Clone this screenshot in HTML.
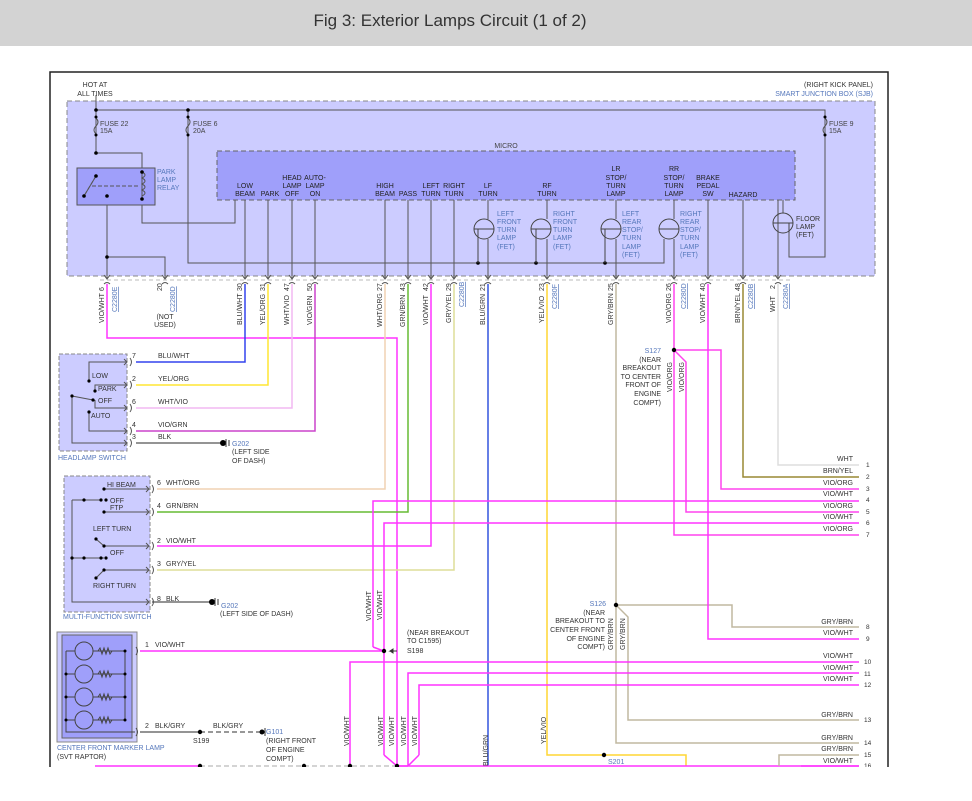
<!DOCTYPE html>
<html><head><meta charset="utf-8"><style>
body{margin:0;background:#fff;width:972px;height:796px;overflow:hidden}
svg text{font-family:"Liberation Sans",sans-serif}
</style></head><body>
<svg width="972" height="796" viewBox="0 0 972 796" xmlns="http://www.w3.org/2000/svg">
<rect x="0" y="0" width="972" height="46" fill="#d3d3d3"/>
<text x="450" y="26" font-size="17" text-anchor="middle" fill="#333">Fig 3: Exterior Lamps Circuit (1 of 2)</text>
<rect x="50" y="72" width="838" height="740" fill="#fff" stroke="#222" stroke-width="1.5"/>
<g font-size="7" fill="#333">
<text x="95" y="87" text-anchor="middle">HOT AT</text>
<text x="95" y="96" text-anchor="middle">ALL TIMES</text>
<text x="873" y="87" text-anchor="end">(RIGHT KICK PANEL)</text>
<text x="873" y="96" text-anchor="end" fill="#5577bb">SMART JUNCTION BOX (SJB)</text>
</g>
<!-- SJB -->
<rect x="67" y="101" width="808" height="175" fill="#ccccff" stroke="#888" stroke-dasharray="5,3"/>
<rect x="217" y="151" width="578" height="49" fill="#9f9ffa" stroke="#666" stroke-dasharray="5,3"/>
<g stroke="#555" stroke-width="1" fill="none">
<path d="M96 95V153H142V168M96 110H825V257H789V233"/>
<path d="M188 110V263H664V239"/>
<path d="M142 200V223H235V200"/>
<path d="M107 196V278M107 257H165V278"/>
<path d="M96 118q4 4 0 8q-4 4 0 8M188 118q4 4 0 8q-4 4 0 8M825 118q4 4 0 8q-4 4 0 8"/>
<path d="M478 263V229M536 263V229M605 263V229"/>
<path d="M488 200V219M488 239V278M547 200V219M547 239V278M616 200V219M616 239V278M674 200V219M674 239V278M783 200V213"/>
<path d="M245 200V278M268 200V278M292 200V278M315 200V278M385 200V278M408 200V278M431 200V278M454 200V278M708 200V278M743 200V278M778 200V278"/>
</g>
<rect x="77" y="168" width="78" height="37" fill="#9f9ffa" stroke="#555"/>
<g stroke="#555" fill="none"><path d="M96 176L84 196M92 186H140" stroke-dasharray="4,2"/><path d="M96 176L84 196"/><path d="M142 172q6 3 0 6q6 3 0 6q6 3 0 6q6 3 0 6"/><path d="M142 172V198"/></g>
<g fill="#000"><circle cx="96" cy="110" r="1.8"/><circle cx="188" cy="110" r="1.8"/><circle cx="96" cy="153" r="1.8"/><circle cx="96" cy="176" r="1.8"/><circle cx="84" cy="196" r="1.8"/><circle cx="107" cy="196" r="1.8"/><circle cx="142" cy="172" r="1.8"/><circle cx="142" cy="199" r="1.8"/><circle cx="107" cy="257" r="1.8"/><circle cx="478" cy="263" r="1.8"/><circle cx="536" cy="263" r="1.8"/><circle cx="605" cy="263" r="1.8"/><circle cx="96" cy="117" r="1.5"/><circle cx="96" cy="135" r="1.5"/><circle cx="188" cy="117" r="1.5"/><circle cx="188" cy="135" r="1.5"/><circle cx="825" cy="117" r="1.5"/><circle cx="825" cy="135" r="1.5"/></g>
<g fill="none" stroke="#444"><circle cx="484" cy="229" r="10"/><circle cx="541" cy="229" r="10"/><circle cx="611" cy="229" r="10"/><circle cx="669" cy="229" r="10"/><circle cx="783" cy="223" r="10"/>
<path d="M474 229H494M478 229V263M541 229H551M531 229H551M536 229V263M601 229H621M605 229V263M659 229H679M773 223H793M789 223V233"/></g>
<g font-size="7" fill="#444">
<text x="193" y="126">FUSE 6</text><text x="193" y="133">20A</text>
<text x="100" y="126">FUSE 22</text><text x="100" y="133">15A</text>
<text x="829" y="126">FUSE 9</text><text x="829" y="133">15A</text>
<text x="506" y="148" text-anchor="middle">MICRO</text>
</g>
<g font-size="7" fill="#5577bb"><text x="157" y="174">PARK</text><text x="157" y="182">LAMP</text><text x="157" y="190">RELAY</text>
<text x="497" y="216">LEFT</text><text x="497" y="224">FRONT</text><text x="497" y="232">TURN</text><text x="497" y="240">LAMP</text><text x="497" y="249">(FET)</text>
<text x="553" y="216">RIGHT</text><text x="553" y="224">FRONT</text><text x="553" y="232">TURN</text><text x="553" y="240">LAMP</text><text x="553" y="249">(FET)</text>
<text x="622" y="216">LEFT</text><text x="622" y="224">REAR</text><text x="622" y="232">STOP/</text><text x="622" y="240">TURN</text><text x="622" y="249">LAMP</text><text x="622" y="257">(FET)</text>
<text x="680" y="216">RIGHT</text><text x="680" y="224">REAR</text><text x="680" y="232">STOP/</text><text x="680" y="240">TURN</text><text x="680" y="249">LAMP</text><text x="680" y="257">(FET)</text>
</g>
<g font-size="7" fill="#333"><text x="796" y="221">FLOOR</text><text x="796" y="229">LAMP</text><text x="796" y="237">(FET)</text></g>
<g font-size="7" fill="#222" text-anchor="middle">
<text x="245" y="188">LOW</text><text x="245" y="196">BEAM</text><text x="270" y="196">PARK</text>
<text x="292" y="180">HEAD</text><text x="292" y="188">LAMP</text><text x="292" y="196">OFF</text>
<text x="315" y="180">AUTO-</text><text x="315" y="188">LAMP</text><text x="315" y="196">ON</text>
<text x="385" y="188">HIGH</text><text x="385" y="196">BEAM</text><text x="408" y="196">PASS</text>
<text x="431" y="188">LEFT</text><text x="431" y="196">TURN</text><text x="454" y="188">RIGHT</text><text x="454" y="196">TURN</text>
<text x="488" y="188">LF</text><text x="488" y="196">TURN</text><text x="547" y="188">RF</text><text x="547" y="196">TURN</text>
<text x="616" y="171">LR</text><text x="616" y="180">STOP/</text><text x="616" y="188">TURN</text><text x="616" y="196">LAMP</text>
<text x="674" y="171">RR</text><text x="674" y="180">STOP/</text><text x="674" y="188">TURN</text><text x="674" y="196">LAMP</text>
<text x="708" y="180">BRAKE</text><text x="708" y="188">PEDAL</text><text x="708" y="196">SW</text>
<text x="743" y="197">HAZARD</text>
</g>
<!-- connector line -->
<path d="M100 280H790" stroke="#bbb" stroke-dasharray="4,3"/>
<g stroke="#555" fill="none">
<path d="M104 275l3 4l3-4M162 275l3 4l3-4M242 275l3 4l3-4M265 275l3 4l3-4M289 275l3 4l3-4M312 275l3 4l3-4M382 275l3 4l3-4M405 275l3 4l3-4M428 275l3 4l3-4M451 275l3 4l3-4M485 275l3 4l3-4M544 275l3 4l3-4M613 275l3 4l3-4M671 275l3 4l3-4M705 275l3 4l3-4M740 275l3 4l3-4M775 275l3 4l3-4"/>
<path d="M104 284q3-3 6 0M162 284q3-3 6 0M242 284q3-3 6 0M265 284q3-3 6 0M289 284q3-3 6 0M312 284q3-3 6 0M382 284q3-3 6 0M405 284q3-3 6 0M428 284q3-3 6 0M451 284q3-3 6 0M485 284q3-3 6 0M544 284q3-3 6 0M613 284q3-3 6 0M671 284q3-3 6 0M705 284q3-3 6 0M740 284q3-3 6 0M775 284q3-3 6 0"/>
</g>
<!-- wires -->
<g fill="none" stroke-width="1.5">
<path d="M107 284V338H397V766" stroke="#ff33ff"/>
<path d="M245 284V362H136" stroke="#3344ee"/>
<path d="M268 284V385H136" stroke="#ffe633"/>
<path d="M292 284V408H136" stroke="#f2b8f2"/>
<path d="M315 284V431H136" stroke="#cc44cc"/>
<path d="M385 284V489H157" stroke="#f0d2b4"/>
<path d="M408 284V512H157" stroke="#66bb33"/>
<path d="M431 284V546H157" stroke="#ff33ff"/>
<path d="M454 284V570H157" stroke="#dede99"/>
<path d="M488 284V766" stroke="#3355dd"/>
<path d="M547 284V755H686V766" stroke="#ffd633"/>
<path d="M616 284V743H859M616 605H732V627H859M616 605L628 617V720H859" stroke="#c0b8a0"/>
<path d="M674 284V535H859M674 350H721V489H859M674 350L686 362V512H859" stroke="#ff44ee"/>
<path d="M708 284V639H859" stroke="#ff33ff"/>
<path d="M743 284V477H859" stroke="#998833"/>
<path d="M778 284V465H859" stroke="#dddddd"/>
<path d="M373 647V501H859M384 755V523H859M373 647L384 651M140 651H384M384 755L397 766M350 766V662H859M408 766V673H859M419 755V685H859M408 766L397 766M419 755L408 766" stroke="#ff33ff"/>
<path d="M95 766H200M397 766H859" stroke="#ff33ff"/>
<path d="M779 766V755H859" stroke="#c0b8a0"/>
<path d="M801 766H859" stroke="#ff33ff"/>
</g>
<path d="M200 766H397" stroke="#aaa" stroke-dasharray="5,3"/>
<path d="M136 443H222M152 602H210M140 732H200" stroke="#555" stroke-width="1.2"/>
<path d="M200 732H262" stroke="#777" stroke-width="1.5" stroke-dasharray="5,3"/>
<g fill="#000"><circle cx="674" cy="350" r="2.2"/><circle cx="616" cy="605" r="2.2"/><circle cx="384" cy="651" r="2.2"/><circle cx="200" cy="732" r="2.2"/><circle cx="604" cy="755" r="2.2"/><circle cx="397" cy="766" r="2.2"/><circle cx="200" cy="766" r="2.2"/><circle cx="304" cy="766" r="2.2"/><circle cx="350" cy="766" r="2.2"/><circle cx="223" cy="443" r="3"/><circle cx="212" cy="602" r="3"/><circle cx="262" cy="732" r="2.5"/></g>
<path d="M226 439V447M229 440V446M215 598V606M218 599V605M265 728V736" stroke="#333"/>
<path d="M397 651H390l3-2v4l-3-2" stroke="#333" fill="#333"/>
<!-- rotated pin labels -->
<g font-size="7" fill="#333">
<g transform="rotate(-90)">
<text x="-323" y="104">VIO/WHT</text><text x="-291" y="104">6</text>
<text x="-291" y="162">20</text>
<text x="-325" y="242">BLU/WHT</text><text x="-291" y="242">30</text>
<text x="-325" y="265">YEL/ORG</text><text x="-291" y="265">31</text>
<text x="-325" y="289">WHT/VIO</text><text x="-291" y="289">47</text>
<text x="-325" y="312">VIO/GRN</text><text x="-291" y="312">50</text>
<text x="-327" y="382">WHT/ORG</text><text x="-291" y="382">27</text>
<text x="-327" y="405">GRN/BRN</text><text x="-291" y="405">43</text>
<text x="-325" y="428">VIO/WHT</text><text x="-291" y="428">42</text>
<text x="-323" y="451">GRY/YEL</text><text x="-291" y="451">29</text>
<text x="-325" y="485">BLU/GRN</text><text x="-291" y="485">21</text>
<text x="-323" y="544">YEL/VIO</text><text x="-291" y="544">23</text>
<text x="-325" y="613">GRY/BRN</text><text x="-291" y="613">25</text>
<text x="-323" y="671">VIO/ORG</text><text x="-291" y="671">26</text>
<text x="-323" y="705">VIO/WHT</text><text x="-291" y="705">40</text>
<text x="-323" y="740">BRN/YEL</text><text x="-291" y="740">48</text>
<text x="-312" y="775">WHT</text><text x="-289" y="775">2</text>
<text x="-392" y="672">VIO/ORG</text><text x="-392" y="684">VIO/ORG</text>
<text x="-650" y="613">GRY/BRN</text><text x="-650" y="625">GRY/BRN</text>
<text x="-621" y="371">VIO/WHT</text><text x="-620" y="382">VIO/WHT</text>
<text x="-746" y="349">VIO/WHT</text><text x="-746" y="383">VIO/WHT</text><text x="-746" y="394">VIO/WHT</text><text x="-746" y="406">VIO/WHT</text><text x="-746" y="417">VIO/WHT</text>
<text x="-766" y="488">BLU/GRN</text><text x="-744" y="546">YEL/VIO</text>
</g>
<g transform="rotate(-90)" fill="#5577bb" text-decoration="underline">
<text x="-312" y="117">C2280E</text><text x="-312" y="175">C2280D</text><text x="-307" y="464">C2280B</text><text x="-309" y="557">C2280F</text><text x="-309" y="686">C2280D</text><text x="-309" y="753">C2280B</text><text x="-309" y="788">C2280A</text>
</g>
<text x="165" y="319" text-anchor="middle">(NOT</text><text x="165" y="327" text-anchor="middle">USED)</text>
</g>
<!-- headlamp switch -->
<rect x="59" y="354" width="68" height="97" fill="#ccccff" stroke="#888" stroke-dasharray="4,2"/>
<g stroke="#555" fill="none"><path d="M89 381V362H126M89 381V381M95 391V385H126M93 400L72 396V443H126M95 400V408H126M89 412V431H126"/>
<path d="M124 359l3 3l-3 3M124 382l3 3l-3 3M124 405l3 3l-3 3M124 428l3 3l-3 3M124 440l3 3l-3 3M130 358q3 4 0 8M130 381q3 4 0 8M130 404q3 4 0 8M130 427q3 4 0 8M130 439q3 4 0 8"/></g>
<g fill="#000"><circle cx="89" cy="381" r="1.6"/><circle cx="95" cy="391" r="1.6"/><circle cx="72" cy="396" r="1.6"/><circle cx="93" cy="400" r="1.6"/><circle cx="89" cy="412" r="1.6"/></g>
<g font-size="7" fill="#333"><text x="92" y="378">LOW</text><text x="98" y="391">PARK</text><text x="98" y="403">OFF</text><text x="91" y="418">AUTO</text>
<text x="132" y="358">7</text><text x="132" y="381">2</text><text x="132" y="404">6</text><text x="132" y="427">4</text><text x="132" y="439">3</text>
<text x="158" y="358">BLU/WHT</text><text x="158" y="381">YEL/ORG</text><text x="158" y="404">WHT/VIO</text><text x="158" y="427">VIO/GRN</text><text x="158" y="439">BLK</text>
<text x="232" y="446" fill="#5577bb">G202</text><text x="232" y="454">(LEFT SIDE</text><text x="232" y="463">OF DASH)</text>
<text x="58" y="460" fill="#5577bb">HEADLAMP SWITCH</text></g>
<!-- MFS -->
<rect x="64" y="476" width="86" height="136" fill="#ccccff" stroke="#888" stroke-dasharray="4,2"/>
<g stroke="#555" fill="none"><path d="M104 489H148M72 500V602H148M72 500H102M104 512H148M96 539L104 546H148M72 558H104M104 570H148M96 578L104 570"/>
<path d="M146 486l3 3l-3 3M146 509l3 3l-3 3M146 543l3 3l-3 3M146 567l3 3l-3 3M146 599l3 3l-3 3M152 485q3 4 0 8M152 508q3 4 0 8M152 542q3 4 0 8M152 566q3 4 0 8M152 598q3 4 0 8"/></g>
<g fill="#000"><circle cx="104" cy="489" r="1.6"/><circle cx="84" cy="500" r="1.6"/><circle cx="101" cy="500" r="1.6"/><circle cx="106" cy="500" r="1.6"/><circle cx="104" cy="512" r="1.6"/><circle cx="96" cy="539" r="1.6"/><circle cx="104" cy="546" r="1.6"/><circle cx="72" cy="558" r="1.6"/><circle cx="84" cy="558" r="1.6"/><circle cx="101" cy="558" r="1.6"/><circle cx="106" cy="558" r="1.6"/><circle cx="104" cy="570" r="1.6"/><circle cx="96" cy="578" r="1.6"/></g>
<g font-size="7" fill="#333"><text x="107" y="487">HI BEAM</text><text x="110" y="503">OFF</text><text x="110" y="510">FTP</text><text x="93" y="531">LEFT TURN</text><text x="110" y="555">OFF</text><text x="93" y="588">RIGHT TURN</text>
<text x="157" y="485">6</text><text x="166" y="485">WHT/ORG</text><text x="157" y="508">4</text><text x="166" y="508">GRN/BRN</text><text x="157" y="543">2</text><text x="166" y="543">VIO/WHT</text><text x="157" y="566">3</text><text x="166" y="566">GRY/YEL</text><text x="157" y="601">8</text><text x="166" y="601">BLK</text>
<text x="221" y="608" fill="#5577bb">G202</text><text x="221" y="616" fill="#444"> </text><text x="220" y="616">(LEFT SIDE OF DASH)</text>
<text x="63" y="619" fill="#5577bb">MULTI-FUNCTION SWITCH</text></g>
<!-- marker lamp -->
<rect x="57" y="632" width="80" height="110" fill="#ccccff" stroke="#888"/>
<rect x="62" y="635" width="70" height="103" fill="#9f9ffa" stroke="#666"/>
<g stroke="#444" fill="none"><path d="M66 651V732H135M66 651H125V720M66 674H125M66 697H125M66 720H125"/>
<circle cx="84" cy="651" r="9" fill="#9f9ffa"/><circle cx="84" cy="674" r="9" fill="#9f9ffa"/><circle cx="84" cy="697" r="9" fill="#9f9ffa"/><circle cx="84" cy="720" r="9" fill="#9f9ffa"/>
<path d="M98 651l2-3l2 6l2-6l2 6l2-6l2 6l2-3M98 674l2-3l2 6l2-6l2 6l2-6l2 6l2-3M98 697l2-3l2 6l2-6l2 6l2-6l2 6l2-3M98 720l2-3l2 6l2-6l2 6l2-6l2 6l2-3"/>
<path d="M136 647q3 4 0 8M136 728q3 4 0 8"/></g>
<g fill="#000"><circle cx="66" cy="674" r="1.5"/><circle cx="66" cy="697" r="1.5"/><circle cx="66" cy="720" r="1.5"/><circle cx="125" cy="651" r="1.5"/><circle cx="125" cy="674" r="1.5"/><circle cx="125" cy="697" r="1.5"/><circle cx="125" cy="720" r="1.5"/></g>
<g font-size="7" fill="#333"><text x="145" y="647">1</text><text x="155" y="647">VIO/WHT</text><text x="145" y="728">2</text><text x="155" y="728">BLK/GRY</text><text x="213" y="728">BLK/GRY</text>
<text x="193" y="743">S199</text><text x="266" y="734" fill="#5577bb">G101</text><text x="266" y="743">(RIGHT FRONT</text><text x="266" y="752">OF ENGINE</text><text x="266" y="761">COMPT)</text>
<text x="57" y="750" fill="#5577bb">CENTER FRONT MARKER LAMP</text><text x="57" y="759">(SVT RAPTOR)</text>
<text x="407" y="635">(NEAR BREAKOUT</text><text x="407" y="643">TO C1595)</text><text x="407" y="653">S198</text>
<text x="661" y="353" text-anchor="end" fill="#5577bb">S127</text>
<g text-anchor="end"><text x="661" y="362">(NEAR</text><text x="661" y="370">BREAKOUT</text><text x="661" y="379">TO CENTER</text><text x="661" y="387">FRONT OF</text><text x="661" y="396">ENGINE</text><text x="661" y="405">COMPT)</text>
<text x="606" y="606" fill="#5577bb">S126</text><text x="605" y="615">(NEAR</text><text x="605" y="623">BREAKOUT TO</text><text x="605" y="632">CENTER FRONT</text><text x="605" y="641">OF ENGINE</text><text x="605" y="649">COMPT)</text>
<text x="853" y="461">WHT</text><text x="853" y="473">BRN/YEL</text><text x="853" y="485">VIO/ORG</text><text x="853" y="496">VIO/WHT</text><text x="853" y="508">VIO/ORG</text><text x="853" y="519">VIO/WHT</text><text x="853" y="531">VIO/ORG</text>
<text x="853" y="624">GRY/BRN</text><text x="853" y="635">VIO/WHT</text><text x="853" y="658">VIO/WHT</text><text x="853" y="670">VIO/WHT</text><text x="853" y="681">VIO/WHT</text><text x="853" y="717">GRY/BRN</text><text x="853" y="740">GRY/BRN</text><text x="853" y="751">GRY/BRN</text><text x="853" y="763">VIO/WHT</text></g>
<text x="608" y="764" fill="#5577bb">S201</text>
<g font-size="6.5"><text x="866" y="467">1</text><text x="866" y="479">2</text><text x="866" y="491">3</text><text x="866" y="502">4</text><text x="866" y="514">5</text><text x="866" y="525">6</text><text x="866" y="537">7</text><text x="866" y="629">8</text><text x="866" y="641">9</text><text x="864" y="664">10</text><text x="864" y="676">11</text><text x="864" y="687">12</text><text x="864" y="722">13</text><text x="864" y="745">14</text><text x="864" y="757">15</text><text x="864" y="768">16</text></g>
</g>
<rect x="0" y="767" width="972" height="29" fill="#fff"/>
</svg>
</body></html>
